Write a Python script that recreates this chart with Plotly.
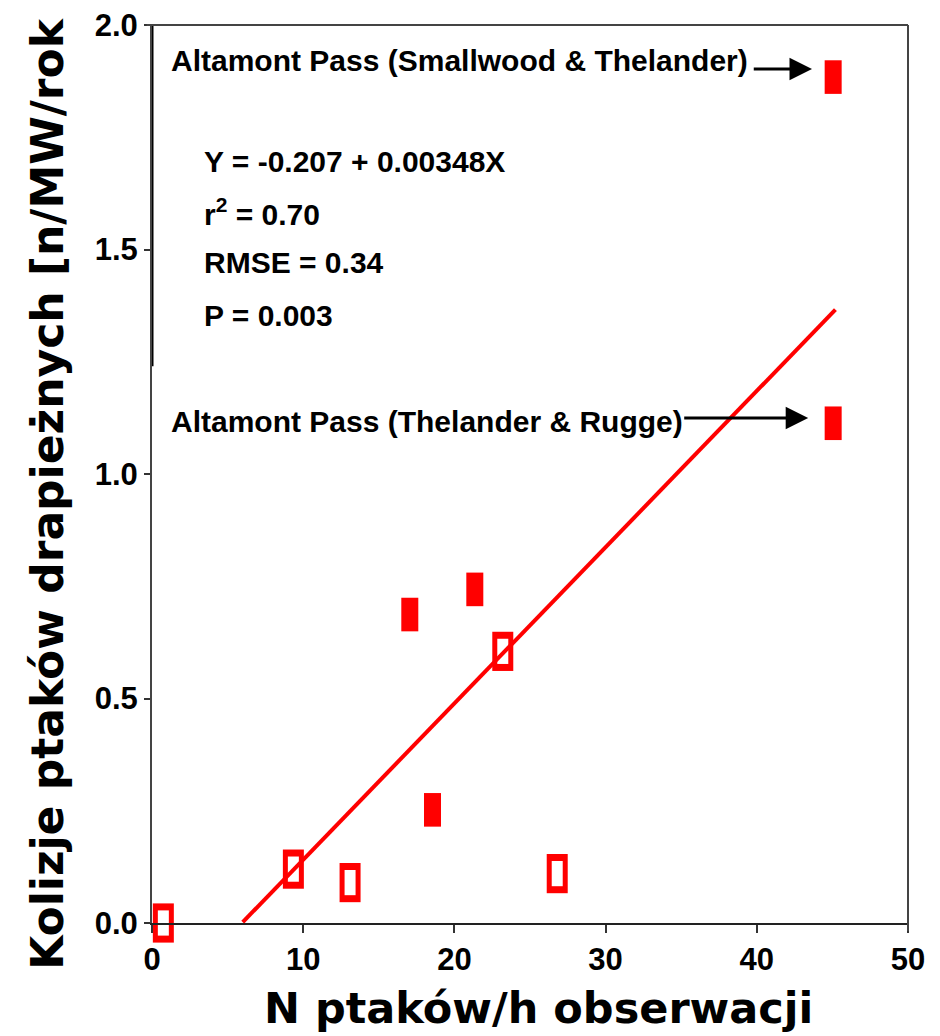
import plotly.graph_objects as go

# ---- data ----
open_x = [0.75, 9.35, 13.1, 23.2, 26.8]
open_y = [0.0, 0.12, 0.09, 0.605, 0.11]
filled_x = [17.05, 18.55, 21.35, 45.05, 45.05]
filled_y = [0.687, 0.252, 0.743, 1.113, 1.884]

fit_intercept = -0.207
fit_slope = 0.0348
fit_x = [6.0, 45.2]
fit_y = [fit_intercept + fit_slope * v for v in fit_x]

x_ticks = [0, 10, 20, 30, 40, 50]
y_ticks = [0.0, 0.5, 1.0, 1.5, 2.0]
y_tick_labels = ["0.0", "0.5", "1.0", "1.5", "2.0"]

stats_lines = ["Y = -0.207 + 0.00348X", "r<sup>2</sup> = 0.70", "RMSE = 0.34", "P = 0.003"]
label_top = "Altamont Pass (Smallwood & Thelander)"
label_mid = "Altamont Pass (Thelander & Rugge)"
x_title = "N ptaków/h obserwacji"
y_title = "Kolizje ptaków drapieżnych [n/MW/rok"

SANS = "Liberation Sans, Arial, sans-serif"
VERD = "DejaVu Sans, Verdana, sans-serif"
RED = "#ff0000"

fig = go.Figure()
# open rectangles: red outer + white inner
fig.add_trace(go.Scatter(x=open_x, y=open_y, mode="markers", cliponaxis=False,
                         marker=dict(symbol="line-ns", size=28, line=dict(width=21, color=RED)),
                         hoverinfo="skip", showlegend=False))
fig.add_trace(go.Scatter(x=open_x, y=open_y, mode="markers", cliponaxis=False,
                         marker=dict(symbol="line-ns", size=18, line=dict(width=11, color="white")),
                         hoverinfo="skip", showlegend=False))
# regression line
fig.add_trace(go.Scatter(x=fit_x, y=fit_y, mode="lines", line=dict(color=RED, width=4),
                         hoverinfo="skip", showlegend=False))
# filled rectangles
fig.add_trace(go.Scatter(x=filled_x, y=filled_y, mode="markers", cliponaxis=False,
                         marker=dict(symbol="line-ns", size=24, line=dict(width=17, color=RED)),
                         hoverinfo="skip", showlegend=False))

LBL = dict(family=SANS, size=30, color="black", weight="bold")
ann = []
ann.append(dict(x=1.1, y=1.922, xref="x", yref="y", text=label_top, showarrow=False,
                xanchor="left", yanchor="middle", font=LBL))
ann.append(dict(x=1.1, y=1.118, xref="x", yref="y", text=label_mid, showarrow=False,
                xanchor="left", yanchor="middle", font=LBL))
for txt, yy in zip(stats_lines, [1.697, 1.583, 1.470, 1.352]):
    ann.append(dict(x=3.3, y=yy, xref="x", yref="y", text=txt, showarrow=False,
                    xanchor="left", yanchor="middle", font=LBL))
# arrows
ann.append(dict(x=43.65, y=1.902, ax=39.7, ay=1.902, xref="x", yref="y", axref="x", ayref="y",
                text="", showarrow=True, arrowhead=2, arrowsize=1.5, arrowwidth=3,
                arrowcolor="black", standoff=0))
ann.append(dict(x=43.4, y=1.125, ax=35.1, ay=1.125, xref="x", yref="y", axref="x", ayref="y",
                text="", showarrow=True, arrowhead=2, arrowsize=1.5, arrowwidth=3,
                arrowcolor="black", standoff=0))
# axis titles
ann.append(dict(x=0.5106, y=-0.1247, xref="paper", yref="paper", text=x_title, showarrow=False,
                xanchor="center", yanchor="bottom",
                font=dict(family=VERD, size=43, color="black", weight="bold")))
ann.append(dict(x=-0.1376, y=0.479, xref="paper", yref="paper", text=y_title, showarrow=False,
                textangle=-90, xanchor="center", yanchor="middle",
                font=dict(family=VERD, size=44, color="black", weight="bold")))

frame = [
    # upper part of the left axis drawn heavier, as in the reference
    dict(type="line", xref="x", yref="y", x0=0, x1=0, y0=1.24, y1=2.0,
         line=dict(color="black", width=3), layer="above"),
    # top border (starts a little left of the y axis like a tick)
    dict(type="line", xref="paper", yref="paper", x0=-0.007, x1=1.0, y0=1.0, y1=1.0,
         line=dict(color="#444", width=2), layer="above"),
    # right border (extends below the x axis like the 50 tick)
    dict(type="line", xref="paper", yref="paper", x0=1.0, x1=1.0, y0=-0.009, y1=1.0,
         line=dict(color="#444", width=2), layer="above"),
]

TICKF = dict(family=SANS, size=31, color="black", weight="bold")
fig.update_layout(
    width=940, height=1036,
    margin=dict(l=144, r=40, t=17, b=121, autoexpand=False),
    paper_bgcolor="white", plot_bgcolor="white",
    annotations=ann,
    shapes=frame,
    xaxis=dict(range=[0, 50], tickvals=x_ticks, ticks="outside", ticklen=8, tickwidth=2,
               tickcolor="#333", showline=True, linecolor="#222", linewidth=2, mirror=False,
               showgrid=False, zeroline=False, automargin=False, tickfont=TICKF,
               ticklabeloverflow="allow"),
    yaxis=dict(range=[0, 2.0], tickvals=y_ticks, ticktext=y_tick_labels, ticks="outside",
               ticklen=6, tickwidth=2, tickcolor="#333", showline=True, linecolor="#444",
               linewidth=2, mirror=False, showgrid=False, zeroline=False, automargin=False,
               tickfont=TICKF, ticklabeloverflow="allow"),
)

fig.write_html("out.html")
